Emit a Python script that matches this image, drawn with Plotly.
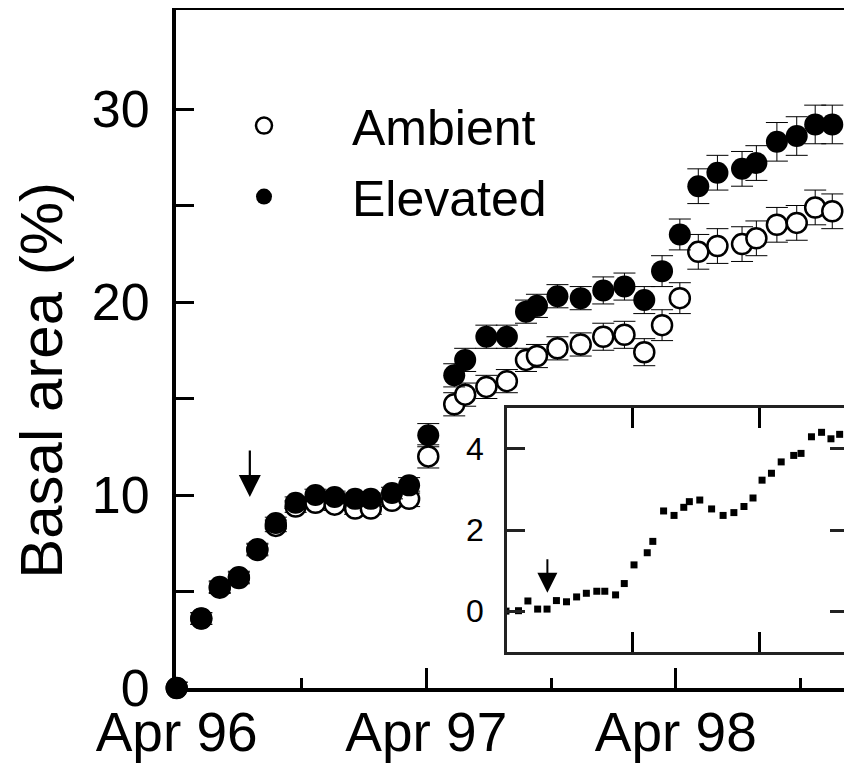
import plotly.graph_objects as go

# ---- data ----
dates = ["1996-04-01", "1996-05-07", "1996-06-03", "1996-07-01", "1996-07-28",
         "1996-08-24", "1996-09-22", "1996-10-21", "1996-11-18", "1996-12-18",
         "1997-01-10", "1997-02-10", "1997-03-07", "1997-04-04", "1997-05-12",
         "1997-05-28", "1997-06-28", "1997-07-28", "1997-08-25", "1997-09-10",
         "1997-10-10", "1997-11-13", "1997-12-16", "1998-01-16", "1998-02-14",
         "1998-03-12", "1998-04-07", "1998-05-04", "1998-06-01", "1998-07-07",
         "1998-07-28", "1998-08-27", "1998-09-25", "1998-10-22", "1998-11-16"]

elevated = [0.0, 3.6, 5.25, 5.75, 7.2, 8.55, 9.6, 10.0, 9.9, 9.8,
            9.8, 10.1, 10.5, 13.1, 16.2, 17.0, 18.2, 18.2, 19.5, 19.8,
            20.3, 20.2, 20.6, 20.8, 20.1, 21.6, 23.5, 26.0, 26.7, 26.9,
            27.2, 28.3, 28.6, 29.2, 29.2]
ambient = [0.0, 3.6, 5.2, 5.7, 7.15, 8.4, 9.4, 9.6, 9.5, 9.3,
           9.3, 9.7, 9.8, 12.0, 14.7, 15.2, 15.6, 15.9, 17.0, 17.2,
           17.6, 17.8, 18.2, 18.3, 17.4, 18.8, 20.2, 22.6, 22.9, 23.0,
           23.3, 24.0, 24.1, 24.9, 24.7]
elevated_err = [0.3, 0.3, 0.3, 0.3, 0.3, 0.3, 0.3, 0.3, 0.3, 0.3,
                0.3, 0.3, 0.4, 0.6, 0.6, 0.6, 0.6, 0.6, 0.6, 0.6,
                0.6, 0.6, 0.7, 0.7, 0.7, 0.8, 0.8, 0.9, 0.9, 0.9,
                0.9, 1.0, 1.0, 1.0, 1.0]
ambient_err = [0.3, 0.3, 0.3, 0.3, 0.3, 0.3, 0.3, 0.3, 0.3, 0.3,
               0.3, 0.3, 0.4, 0.6, 0.6, 0.6, 0.6, 0.6, 0.6, 0.6,
               0.6, 0.6, 0.7, 0.7, 0.7, 0.8, 0.8, 0.9, 0.9, 0.9,
               0.9, 0.9, 0.9, 0.9, 0.9]
difference = [0.0, 0.01, 0.25, 0.05, 0.05, 0.26, 0.23, 0.35, 0.44, 0.49,
              0.49, 0.40, 0.68, 1.14, 1.44, 1.72, 2.47, 2.36, 2.56, 2.70,
              2.74, 2.52, 2.36, 2.43, 2.58, 2.79, 3.23, 3.40, 3.68, 3.84,
              3.89, 4.30, 4.41, 4.25, 4.36]

x_tickvals = ["1996-04-01", "1997-04-01", "1998-04-01"]
x_ticktext = ["Apr 96", "Apr 97", "Apr 98"]
x_minor = ["1996-10-01", "1997-10-01", "1998-10-01"]
y_tickvals = [0, 5, 10, 15, 20, 25, 30]
y_ticktext = ["0", "", "10", "", "20", "", "30"]
inset_yticks = [0, 2, 4]
inset_xticks = ["1997-04-01", "1998-04-01"]

arrow_date = "1996-07-17"
arrow_y = 9.9
inset_arrow_date = "1996-07-29"
inset_arrow_y = 0.45

FONT = "Liberation Sans, Arial, Helvetica, sans-serif"

fig = go.Figure()

fig.add_trace(go.Scatter(
    x=dates, y=ambient, mode="markers", name="Ambient", legendgroup="a",
    marker=dict(symbol="circle", size=20, color="white",
                line=dict(color="black", width=2.5)),
    error_y=dict(type="data", array=ambient_err, color="black",
                 thickness=1, width=11),
    cliponaxis=False,
))
fig.add_trace(go.Scatter(
    x=dates, y=elevated, mode="markers", name="Elevated", legendgroup="b",
    marker=dict(symbol="circle", size=22, color="black",
                line=dict(color="black", width=0)),
    error_y=dict(type="data", array=elevated_err, color="black",
                 thickness=1, width=11),
    cliponaxis=False,
))
fig.add_trace(go.Scatter(
    x=dates, y=difference, mode="markers", name="Difference",
    marker=dict(symbol="square", size=7, color="black"),
    xaxis="x2", yaxis="y2", showlegend=False,
))

fig.update_layout(
    width=852, height=765, autosize=False,
    margin=dict(l=168, r=12, t=2, b=85, autoexpand=False),
    paper_bgcolor="white", plot_bgcolor="white",
    font=dict(family=FONT, size=50, color="black"),
    showlegend=True,
    legend=dict(x=0.0, y=0.887, xanchor="left", yanchor="top",
                bgcolor="rgba(0,0,0,0)", itemwidth=166,
                font=dict(size=50), tracegroupgap=3),
    xaxis=dict(
        type="date", range=["1996-03-31", "1998-12-09"],
        tickmode="array", tickvals=x_tickvals, ticktext=x_ticktext,
        ticks="inside", ticklen=20, tickwidth=3, tickcolor="black",
        minor=dict(tickvals=x_minor, ticks="inside", ticklen=10,
                   tickwidth=3, tickcolor="black"),
        showline=True, linewidth=4, linecolor="black", mirror=True,
        showgrid=False, zeroline=False, automargin=False,
        tickfont=dict(size=55), ticklabelstandoff=-7,
    ),
    yaxis=dict(
        range=[0, 35.13],
        tickmode="array", tickvals=y_tickvals, ticktext=y_ticktext,
        ticks="inside", ticklen=18, tickwidth=3, tickcolor="black",
        showline=True, linewidth=4, linecolor="black", mirror=True,
        showgrid=False, zeroline=False, automargin=False,
        tickfont=dict(size=52), ticklabelstandoff=12,
    ),
    xaxis2=dict(
        type="date", range=["1996-04-04", "1998-12-10"],
        domain=[0.4926, 1.0], anchor="y2",
        tickmode="array", tickvals=inset_xticks, showticklabels=False,
        ticks="inside", ticklen=20, tickwidth=3, tickcolor="black",
        showline=True, linewidth=2.5, linecolor="#222", mirror="ticks",
        showgrid=False, zeroline=False, automargin=False,
    ),
    yaxis2=dict(
        range=[-1.01, 5.01], domain=[0.053, 0.413], anchor="x2",
        tickmode="array", tickvals=inset_yticks,
        ticks="inside", ticklen=18, tickwidth=2.5, tickcolor="#222",
        showline=True, linewidth=2.5, linecolor="#222", mirror="ticks",
        showgrid=False, zeroline=False, automargin=False,
        tickfont=dict(size=32), ticklabelstandoff=14,
    ),
    annotations=[
        dict(text="Basal area (%)", textangle=-90, xref="paper", yref="paper",
             x=-0.200, y=0.454, xanchor="center", yanchor="middle",
             showarrow=False, font=dict(size=60)),
        dict(x=arrow_date, y=arrow_y, xref="x", yref="y", text="",
             showarrow=True, arrowhead=2, arrowsize=2.0, arrowwidth=2.2,
             arrowcolor="black", ax=0, ay=-48),
        dict(x=inset_arrow_date, y=inset_arrow_y, xref="x2", yref="y2",
             text="", showarrow=True, arrowhead=2, arrowsize=2.0,
             arrowwidth=2.0, arrowcolor="black", ax=0, ay=-35),
    ],
)

fig.write_html("out.html")
